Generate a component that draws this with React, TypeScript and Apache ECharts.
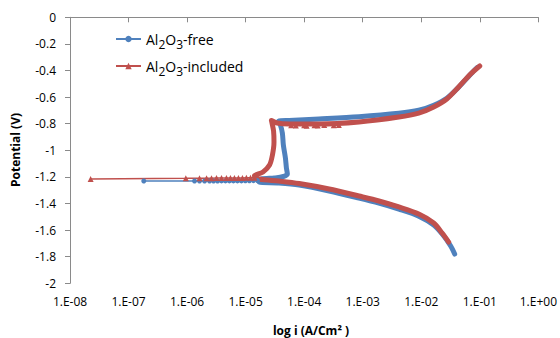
import React, { useEffect, useRef } from "react";
import * as echarts from "echarts";

// ---- Data (current density i in A/cm², potential E in V) ----
// Al2O3-free: sparse low-current points near Ecorr
const freeSparseI = [1.82e-7, 1.34e-6, 1.63e-6, 1.99e-6, 2.42e-6, 2.83e-6, 3.31e-6, 3.87e-6, 4.52e-6, 5.28e-6, 6.18e-6, 7.24e-6, 8.47e-6, 9.91e-6, 1.16e-5, 1.36e-5, 1.59e-5];
const freeSparseE = [-1.231, -1.231, -1.231, -1.231, -1.231, -1.231, -1.231, -1.23, -1.23, -1.23, -1.23, -1.23, -1.23, -1.229, -1.229, -1.228, -1.228];
// Al2O3-free: dense polarization curve (cathodic branch -> Ecorr -> anodic branch)
const freeCurveI = [3.72e-2, 3.18e-2, 2.35e-2, 1.63e-2, 9.06e-3, 4.14e-3, 1.89e-3, 8.63e-4, 2.67e-4, 8.22e-5, 3.72e-5, 1.7e-5, 1.86e-5, 3.09e-5, 4.41e-5, 5.16e-5, 4.97e-5, 4.78e-5, 4.41e-5, 4.24e-5, 3.92e-5, 3.62e-5, 5.53e-5, 1.79e-4, 8.63e-4, 4.14e-3, 9.06e-3, 1.63e-2, 2.73e-2, 4.35e-2, 6.96e-2, 9.12e-2];
const freeCurveE = [-1.78, -1.72, -1.637, -1.562, -1.495, -1.442, -1.397, -1.359, -1.306, -1.262, -1.246, -1.238, -1.216, -1.208, -1.197, -1.178, -1.133, -1.058, -0.96, -0.87, -0.81, -0.783, -0.776, -0.765, -0.748, -0.722, -0.699, -0.661, -0.609, -0.526, -0.428, -0.376];

// Al2O3-included: sparse low-current points near Ecorr
const inclSparseI = [2.25e-8, 9.5e-7, 1.63e-6, 2.15e-6, 2.61e-6, 3.18e-6, 3.87e-6, 4.7e-6, 5.5e-6, 6.44e-6, 7.53e-6, 8.81e-6, 1.03e-5, 1.21e-5, 1.41e-5];
const inclSparseE = [-1.216, -1.211, -1.21, -1.21, -1.21, -1.209, -1.209, -1.209, -1.209, -1.208, -1.208, -1.208, -1.207, -1.207, -1.206];
// Al2O3-included: dense polarization curve
const inclCurveI = [2.94e-2, 2.27e-2, 1.63e-2, 9.06e-3, 4.14e-3, 1.89e-3, 8.63e-4, 2.67e-4, 8.22e-5, 3.72e-5, 1.7e-5, 1.41e-5, 1.98e-5, 2.56e-5, 2.87e-5, 3.05e-5, 3.0e-5, 2.82e-5, 2.76e-5, 3.45e-5, 5.53e-5, 1.79e-4, 8.63e-4, 4.14e-3, 9.06e-3, 1.63e-2, 2.73e-2, 4.35e-2, 6.96e-2, 9.97e-2];
const inclCurveE = [-1.69, -1.622, -1.547, -1.479, -1.426, -1.381, -1.344, -1.291, -1.25, -1.231, -1.216, -1.193, -1.163, -1.111, -1.035, -0.938, -0.855, -0.795, -0.776, -0.795, -0.802, -0.802, -0.787, -0.75, -0.72, -0.674, -0.614, -0.524, -0.426, -0.366];
// Al2O3-included: scattered markers just under the anodic branch
const inclMarkI = [6.0e-5, 7.2e-5, 1.0e-4, 1.1e-4, 1.5e-4, 1.7e-4, 2.2e-4, 3.2e-4, 3.9e-4];
const inclMarkE = [-0.812, -0.814, -0.812, -0.815, -0.812, -0.814, -0.81, -0.812, -0.81];

// Axes
const yMin = -2;
const yMax = 0;
const yStep = 0.2;
const xMin = 1e-8;
const xMax = 1;

const BLUE = "#4F81BD";
const RED = "#C0504D";
const FONT = "'Open Sans', 'Noto Sans', sans-serif";

const zip = (a: number[], b: number[]) => a.map((v, k) => [v, b[k]]);

const richLabel: Record<string, string> = {
  "Al2O3-free": "{n|Al}{s|2}{n|O}{s|3}{n|-free}",
  "Al2O3-included": "{n|Al}{s|2}{n|O}{s|3}{n|-included}",
};

export default function App() {
  const ref = useRef<HTMLDivElement>(null);
  useEffect(() => {
    if (!ref.current) return;
    const chart = echarts.init(ref.current, null, { renderer: "svg" });
    chart.setOption({
      animation: false,
      grid: { left: 70, right: 20, top: 17.3, bottom: 54.7 },
      legend: {
        data: ["Al2O3-free", "Al2O3-included"],
        orient: "vertical",
        left: 110,
        top: 27,
        itemWidth: 25,
        itemHeight: 8,
        itemGap: 9,
        formatter: (name: string) => richLabel[name] || name,
        textStyle: {
          fontFamily: FONT,
          color: "#000",
          rich: {
            n: { fontSize: 14, fontFamily: FONT, color: "#000" },
            s: { fontSize: 12, fontFamily: FONT, color: "#000", padding: [10, 0, 0, 0] },
          },
        },
      },
      xAxis: {
        type: "log",
        logBase: 10,
        min: xMin,
        max: xMax,
        splitNumber: 8,
        axisLine: { show: true, lineStyle: { color: "#8a8a8a", width: 1 } },
        axisTick: { show: true, length: 5, lineStyle: { color: "#8a8a8a" } },
        minorTick: { show: false },
        splitLine: { show: false },
        axisLabel: {
          margin: 12,
          fontSize: 12,
          fontFamily: FONT,
          color: "#000",
          formatter: (v: number) => {
            const e = Math.round(Math.log10(v));
            return "1.E" + (e < 0 ? "-" : "+") + String(Math.abs(e)).padStart(2, "0");
          },
        },
      },
      yAxis: {
        type: "value",
        min: yMin,
        max: yMax,
        interval: yStep,
        axisLine: { show: true, lineStyle: { color: "#8a8a8a", width: 1 } },
        axisTick: { show: true, length: 5, lineStyle: { color: "#8a8a8a" } },
        splitLine: { show: false },
        axisLabel: {
          margin: 14,
          fontSize: 12,
          fontFamily: FONT,
          color: "#000",
          formatter: (v: number) => String(Math.round(v * 10) / 10),
        },
      },
      graphic: [
        {
          type: "text",
          x: 15,
          y: 150,
          rotation: Math.PI / 2,
          style: {
            text: "Potential (V)",
            fontFamily: FONT,
            fontSize: 12,
            fontWeight: "bold",
            fill: "#000",
            align: "center",
            verticalAlign: "middle",
          },
        },
        {
          type: "text",
          x: 311,
          y: 330,
          style: {
            text: "log i (A/Cm\u00B2 )",
            fontFamily: FONT,
            fontSize: 12,
            fontWeight: "bold",
            fill: "#000",
            align: "center",
            verticalAlign: "middle",
          },
        },
      ],
      series: [
        {
          name: "free-curve",
          type: "line",
          data: zip(freeCurveI, freeCurveE),
          showSymbol: false,
          smooth: 0.3,
          lineStyle: { color: BLUE, width: 5, cap: "round", join: "round" },
          itemStyle: { color: BLUE },
        },
        {
          name: "Al2O3-free",
          type: "line",
          data: zip(freeSparseI, freeSparseE),
          symbol: "circle",
          symbolSize: 5,
          showSymbol: true,
          lineStyle: { color: BLUE, width: 1.5 },
          itemStyle: { color: BLUE },
        },
        {
          name: "included-marks",
          type: "line",
          data: zip(inclMarkI, inclMarkE),
          symbol: "triangle",
          symbolSize: 6,
          showSymbol: true,
          lineStyle: { width: 0, opacity: 0 },
          itemStyle: { color: RED },
        },
        {
          name: "included-curve",
          type: "line",
          data: zip(inclCurveI, inclCurveE),
          showSymbol: false,
          smooth: 0.3,
          lineStyle: { color: RED, width: 5, cap: "round", join: "round" },
          itemStyle: { color: RED },
        },
        {
          name: "Al2O3-included",
          type: "line",
          data: zip(inclSparseI, inclSparseE),
          symbol: "triangle",
          symbolSize: 6,
          showSymbol: true,
          lineStyle: { color: RED, width: 1.5 },
          itemStyle: { color: RED },
        },
      ],
    });
    return () => chart.dispose();
  }, []);
  return (
    <div
      ref={ref}
      style={{ position: "fixed", left: 0, top: 0, width: 560, height: 338, background: "#fff" }}
    />
  );
}
